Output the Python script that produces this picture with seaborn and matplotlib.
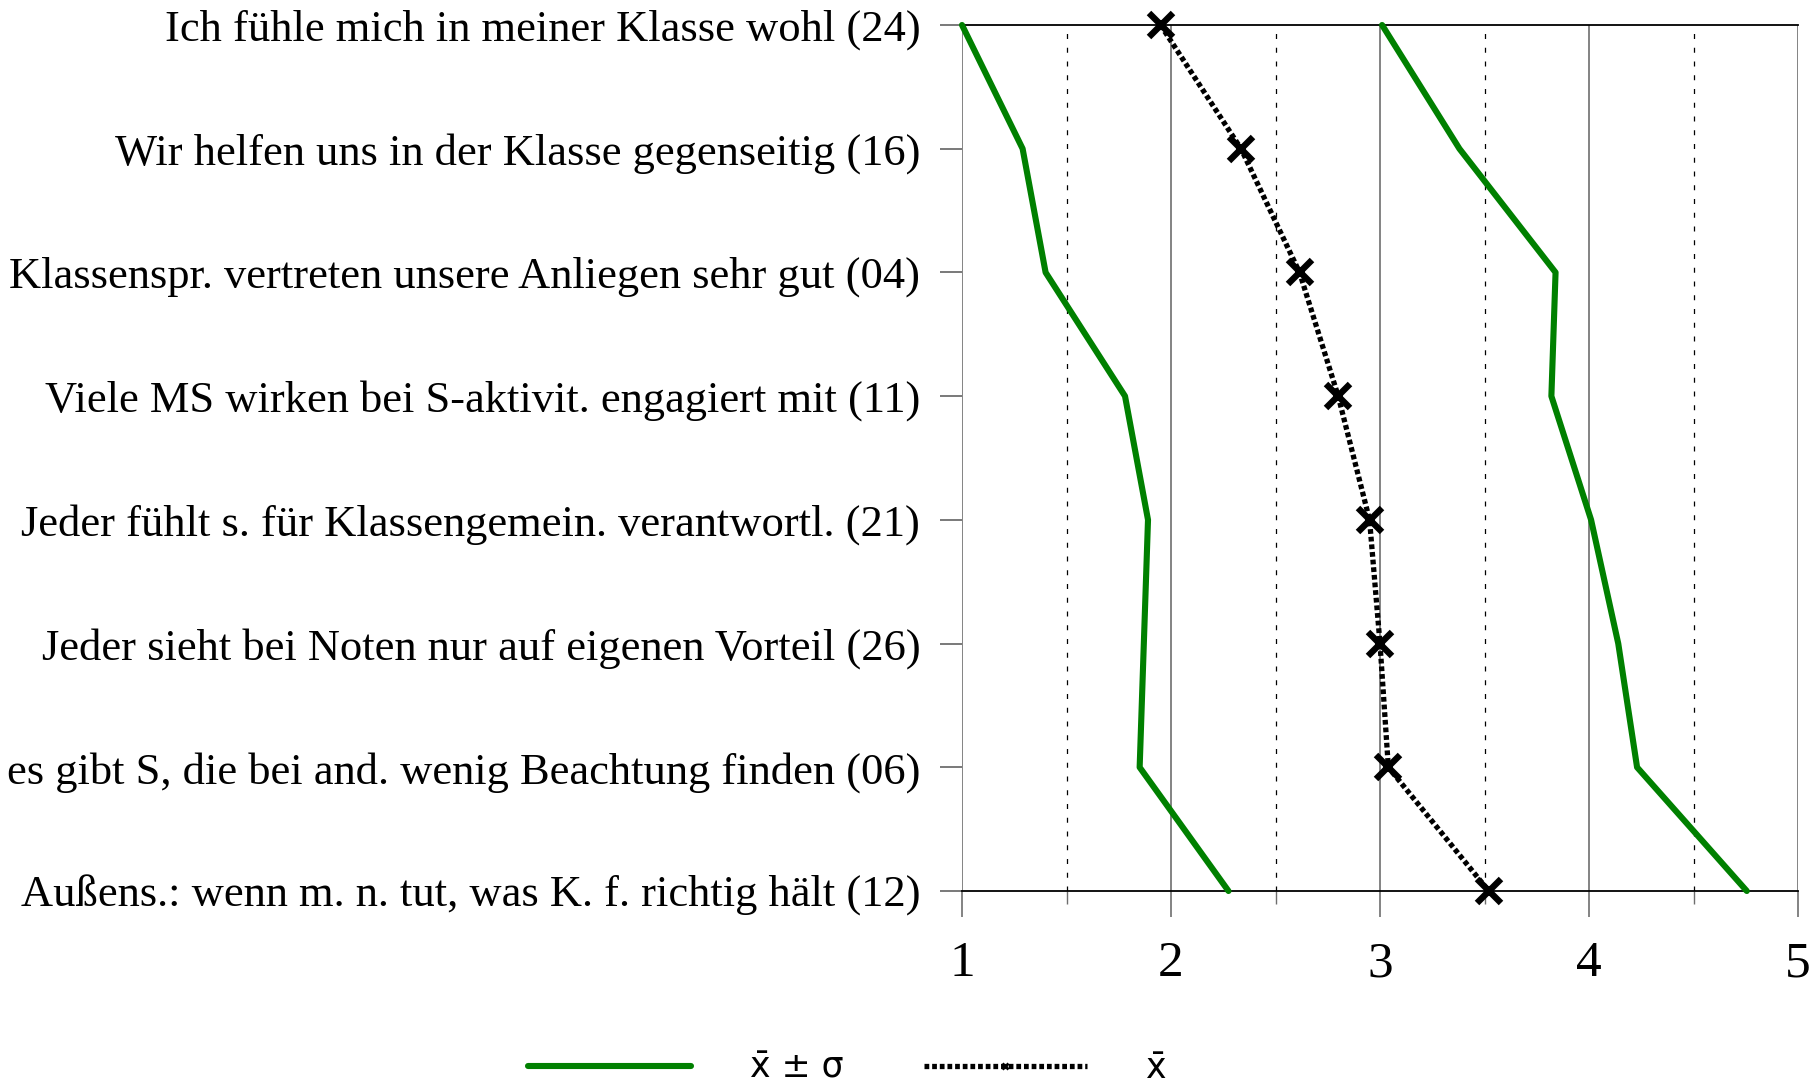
import numpy as np
import pandas as pd
import matplotlib
matplotlib.use("Agg")
import matplotlib.pyplot as plt
from matplotlib.lines import Line2D
from matplotlib.ticker import MultipleLocator
import seaborn as sns

# Items (top to bottom) with item number
items = [
    "Ich fühle mich in meiner Klasse wohl (24)",
    "Wir helfen uns in der Klasse gegenseitig (16)",
    "Klassenspr. vertreten unsere Anliegen sehr gut (04)",
    "Viele MS wirken bei S-aktivit. engagiert mit (11)",
    "Jeder fühlt s. für Klassengemein. verantwortl. (21)",
    "Jeder sieht bei Noten nur auf eigenen Vorteil (26)",
    "es gibt S, die bei and. wenig Beachtung finden (06)",
    "Außens.: wenn m. n. tut, was K. f. richtig hält (12)",
]
mean = [1.95, 2.335, 2.615, 2.80, 2.95, 3.00, 3.04, 3.52]
lower = [1.00, 1.29, 1.40, 1.78, 1.89, 1.87, 1.85, 2.275]
upper = [3.01, 3.38, 3.84, 3.82, 4.01, 4.14, 4.23, 4.755]
x_ticks = [1, 2, 3, 4, 5]

sns.set_theme(style="white")
plt.rcParams["font.family"] = ["Liberation Serif", "DejaVu Serif"]
plt.rcParams["text.color"] = "black"
plt.rcParams["xtick.labelcolor"] = "black"
plt.rcParams["ytick.labelcolor"] = "black"

pos = np.arange(len(items))
df = pd.DataFrame({"pos": pos, "mean": mean, "lower": lower, "upper": upper})

fig = plt.figure(figsize=(18.18, 10.87), dpi=100)
ax = fig.add_axes([962 / 1818, 1 - 891 / 1087, (1798 - 962) / 1818, (891 - 25) / 1087])

green = "#008000"
dot_style = (0, (0.9, 0.55))
for col in ("lower", "upper"):
    sns.lineplot(data=df, x=col, y="pos", orient="y", sort=False, ax=ax,
                 color=green, lw=4.4, clip_on=False, zorder=3)

sns.lineplot(data=df, x="mean", y="pos", orient="y", sort=False, ax=ax,
             color="black", lw=3.8, linestyle=dot_style,
             marker="x", markersize=17, markeredgewidth=4.6,
             markeredgecolor="black", clip_on=False, zorder=4)

ax.set_xlim(1, 5)
ax.set_ylim(len(items) - 1, 0)
ax.set_xlabel("")
ax.set_ylabel("")

ax.set_xticks(x_ticks)
ax.set_xticklabels([str(v) for v in x_ticks], fontsize=37)
ax.xaxis.set_minor_locator(MultipleLocator(0.5))
ax.set_yticks(pos)
ax.set_yticklabels(items, fontsize=32)

ax.grid(False)
ax.grid(axis="x", which="major", color="#6e6e6e", lw=1.2, ls="-", zorder=0)
ax.grid(axis="x", which="minor", color="black", lw=0.9, ls=(0, (4, 7)), zorder=0)

ax.tick_params(axis="x", which="major", direction="out", length=18.7, width=1.2,
               color="#6e6e6e", pad=17, bottom=True)
ax.tick_params(axis="x", which="minor", direction="out", length=9.4, width=1.0,
               color="#6e6e6e", bottom=True)
ax.tick_params(axis="y", which="major", direction="out", length=16, width=1.3,
               color="#6e6e6e", pad=14, left=True)
yt = ax.yaxis.get_major_ticks()
for t in (yt[0], yt[-1]):
    t.tick1line.set_color("black")

for side in ("left", "right"):
    ax.spines[side].set_visible(False)
for side in ("top", "bottom"):
    ax.spines[side].set_color("black")
    ax.spines[side].set_linewidth(1.3)

# legend below the chart
handles = [
    Line2D([], [], color=green, lw=4.4),
    Line2D([], [], color="black", lw=3.8, linestyle=dot_style,
           marker="x", markersize=5, markeredgewidth=2),
]
labels = ["x\u0304 \u00b1 \u03c3", "x\u0304"]
fig.legend(handles, labels, loc="center", bbox_to_anchor=(0.466, 0.0175),
           ncol=2, frameon=False, prop={"family": "DejaVu Sans", "size": 25},
           handlelength=4.7, handletextpad=1.7, columnspacing=2.3)

fig.savefig("out.png", dpi=100)
